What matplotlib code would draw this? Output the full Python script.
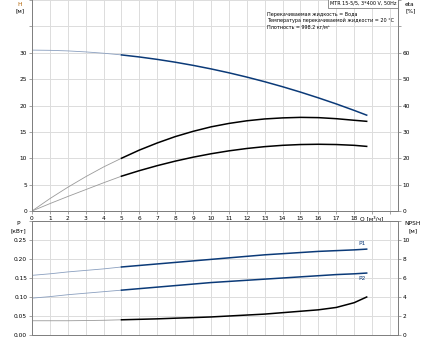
import numpy as np
import matplotlib
matplotlib.use("Agg")
import matplotlib.pyplot as plt

# flow points, m3/h
q = [0, 1, 2, 3, 4, 5, 6, 7, 8, 9, 10, 11, 12, 13, 14, 15, 16, 17, 18, 18.7]
# head, m
head = [30.5, 30.46, 30.35, 30.16, 29.91, 29.59, 29.2, 28.74, 28.21, 27.61,
        26.94, 26.2, 25.39, 24.51, 23.56, 22.54, 21.45, 20.3, 19.07, 18.17]
# efficiencies, %
eta_pump = [0, 4.7, 9.0, 13.0, 16.7, 20.0, 23.1, 25.8, 28.2, 30.2,
            31.9, 33.2, 34.2, 34.9, 35.3, 35.5, 35.4, 35.0, 34.4, 34.0]
eta_total = [0, 2.8, 5.5, 8.1, 10.7, 13.2, 15.3, 17.2, 18.9, 20.4,
             21.7, 22.8, 23.7, 24.4, 24.9, 25.2, 25.3, 25.2, 24.9, 24.5]
# power, kW
p1 = [0.157, 0.161, 0.166, 0.170, 0.174, 0.179, 0.183, 0.187, 0.191, 0.195,
      0.199, 0.203, 0.207, 0.211, 0.214, 0.217, 0.220, 0.222, 0.224, 0.226]
p2 = [0.097, 0.101, 0.106, 0.110, 0.114, 0.118, 0.122, 0.126, 0.130, 0.134,
      0.138, 0.141, 0.144, 0.147, 0.150, 0.153, 0.156, 0.159, 0.161, 0.163]
# NPSH, m
npsh = [1.5, 1.5, 1.5, 1.52, 1.55, 1.6, 1.65, 1.7, 1.77, 1.83,
        1.9, 2.0, 2.1, 2.2, 2.35, 2.5, 2.65, 2.9, 3.4, 4.0]

q_min = 5  # start of the allowed operating range
x_labels = [str(i) for i in range(19)] + ["Q [м³/ч]"]

W, H = 430, 339
NAVY = "#0b3a78"
NAVY_L = "#8a9fbf"
GRID = "#dcdcdc"
SPINE = "#808080"
FS = 4.2
FS_INFO = 3.5

q = np.array(q)
cut = np.searchsorted(q, q_min)


def split_plot(ax, y, dark, light):
    y = np.array(y)
    ax.plot(q[:cut + 1], y[:cut + 1], color=light, lw=0.6)
    ax.plot(q[cut:], y[cut:], color=dark, lw=1.1)


def style(ax, show_x):
    ax.set_xlim(0, 20.45)
    ax.set_xticks(range(21))
    ax.grid(True, color=GRID, lw=0.7)
    ax.set_axisbelow(True)
    for s in ax.spines.values():
        s.set_color(SPINE)
        s.set_linewidth(0.7)
    ax.tick_params(labelsize=FS, length=2, width=0.5, color=SPINE, pad=1.5)
    if show_x:
        ax.set_xticklabels(x_labels + [""])
    else:
        ax.tick_params(axis="x", labelbottom=False, length=0)


fig = plt.figure(figsize=(W / 100, H / 100), dpi=100)

# upper panel: head and efficiency
ax1 = fig.add_axes([32 / W, 1 - 211 / H, 366 / W, 211 / H])
style(ax1, True)
ax1.spines["top"].set_visible(False)
ax1.set_ylim(0, 40)
ax1.set_yticks(range(0, 41, 5))
ax1.set_yticklabels([str(v) for v in range(0, 31, 5)] + ["", ""])
ax1r = ax1.twinx()
ax1r.set_ylim(0, 80)
ax1r.set_yticks(range(0, 81, 10))
ax1r.set_yticklabels([str(v) for v in range(0, 61, 10)] + ["", ""])
ax1r.tick_params(labelsize=FS, length=2, width=0.5, color=SPINE, pad=1.5)
for s in ax1r.spines.values():
    s.set_color(SPINE)
    s.set_linewidth(0.7)
ax1r.spines["top"].set_visible(False)

split_plot(ax1, head, NAVY, NAVY_L)
split_plot(ax1r, eta_pump, "black", "#9a9a9a")
split_plot(ax1r, eta_total, "black", "#9a9a9a")

fig.text(20 / W, 1 - 2 / H, "H", fontsize=FS, ha="center", va="top", color="#b06000")
fig.text(20 / W, 1 - 8 / H, "[м]", fontsize=FS, ha="center", va="top")
fig.text(405 / W, 1 - 2 / H, "eta", fontsize=FS, ha="left", va="top")
fig.text(405 / W, 1 - 8 / H, "[%]", fontsize=FS, ha="left", va="top")

ax1.text(0.995, 0.997, "MTR 15-5/5, 3*400 V, 50Hz", transform=ax1.transAxes,
         fontsize=FS_INFO, ha="right", va="top",
         bbox=dict(boxstyle="square,pad=0.4", fc="white", ec=SPINE, lw=0.6))
ax1.text(0.642, 0.945,
         "Перекачиваемая жидкость = Вода\n"
         "Температура перекачиваемой жидкости = 20 °C\n"
         "Плотность = 998.2 кг/м³",
         transform=ax1.transAxes, fontsize=FS_INFO, ha="left", va="top",
         linespacing=1.35)

# lower panel: power and NPSH
ax2 = fig.add_axes([32 / W, 4 / H, 366 / W, 114 / H])
style(ax2, False)
ax2.set_ylim(0, 0.3)
ax2.set_yticks(np.arange(0, 0.31, 0.05))
ax2.set_yticklabels(["0.00", "0.05", "0.10", "0.15", "0.20", "0.25", ""])
ax2r = ax2.twinx()
ax2r.set_ylim(0, 12)
ax2r.set_yticks(range(0, 13, 2))
ax2r.set_yticklabels([str(v) for v in range(0, 11, 2)] + [""])
ax2r.tick_params(labelsize=FS, length=2, width=0.5, color=SPINE, pad=1.5)
for s in ax2r.spines.values():
    s.set_color(SPINE)
    s.set_linewidth(0.7)

split_plot(ax2, p1, NAVY, NAVY_L)
split_plot(ax2, p2, NAVY, NAVY_L)
split_plot(ax2r, npsh, "black", "#9a9a9a")
ax2.annotate("P1", (q[-1], p1[-1]), xytext=(-1, 2), textcoords="offset points",
             fontsize=FS, color=NAVY, ha="right", va="bottom")
ax2.annotate("P2", (q[-1], p2[-1]), xytext=(-1, -2), textcoords="offset points",
             fontsize=FS, color=NAVY, ha="right", va="top")

fig.text(18 / W, 1 - 221 / H, "P", fontsize=FS, ha="center", va="top")
fig.text(18 / W, 1 - 228 / H, "[кВт]", fontsize=FS, ha="center", va="top")
fig.text(413 / W, 1 - 221 / H, "NPSH", fontsize=FS, ha="center", va="top")
fig.text(413 / W, 1 - 228 / H, "[м]", fontsize=FS, ha="center", va="top")

fig.savefig("out.png", dpi=100)
